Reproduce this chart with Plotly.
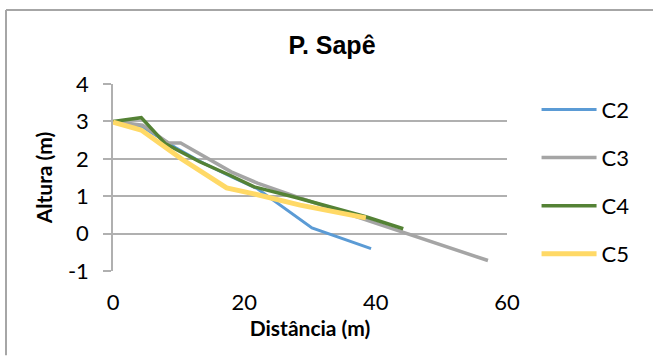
import plotly.graph_objects as go

c2_x = [0, 4.5, 9.5, 13, 18, 22, 30.3, 39.3]
c2_y = [3.0, 2.85, 2.3, 1.95, 1.52, 1.2, 0.15, -0.4]
c3_x = [0, 4.5, 8.5, 10.3, 18, 22, 28, 57.1]
c3_y = [3.0, 2.9, 2.42, 2.42, 1.65, 1.35, 0.98, -0.72]
c4_x = [0, 4.3, 8, 13.2, 17.8, 21.5, 28, 38.5, 44.2]
c4_y = [3.0, 3.1, 2.4, 1.92, 1.56, 1.25, 0.96, 0.45, 0.13]
c5_x = [0, 4.3, 10.4, 17.3, 21.3, 28.5, 38.5]
c5_y = [2.98, 2.77, 2.0, 1.22, 1.07, 0.76, 0.42]

series = [
    ("C2", c2_x, c2_y, "#5B9BD5", 3),
    ("C3", c3_x, c3_y, "#A5A5A5", 3.5),
    ("C4", c4_x, c4_y, "#548235", 3.5),
    ("C5", c5_x, c5_y, "#FFD966", 5),
]

x_ticks = [0, 20, 40, 60]
y_ticks = [-1, 0, 1, 2, 3, 4]
y_tick_labels = ["-1", "0", "1", "2", "3", "4"]

fig = go.Figure()
for name, xs, ys, color, w in series:
    fig.add_trace(go.Scatter(x=xs, y=ys, mode="lines", name=name, legendgroup=name,
                             line=dict(color=color, width=w)))

grid = "#B0B0B0"
frame = "#A6A6A6"
fig.update_layout(
    width=653, height=358,
    margin=dict(l=113, r=146, t=84, b=87),
    paper_bgcolor="white", plot_bgcolor="white",
    font=dict(family="Lato", size=22, color="#000000"),
    title=dict(text="<b>P. Sapê</b>", x=332/653, xanchor="center", y=1-45/358, yanchor="middle",
               font=dict(family="Liberation Sans", size=25, color="#000000")),
    showlegend=True,
    legend=dict(x=1.075, xanchor="left", y=0.975, yanchor="top", tracegroupgap=16.5,
                itemwidth=55, maxheight=320,
                font=dict(family="Lato", size=22), bgcolor="rgba(0,0,0,0)"),
    xaxis=dict(range=[0, 60], tickvals=x_ticks, showgrid=False, zeroline=False, showline=False,
               ticks="", ticklabelstandoff=16,
               title=dict(text="<b>Distância (m)</b>", standoff=5, font=dict(size=21))),
    yaxis=dict(range=[-1, 4], tickvals=y_ticks, ticktext=y_tick_labels, showgrid=True,
               gridcolor=grid, gridwidth=1.5,
               zeroline=False, showline=True, linecolor=grid, linewidth=1.5,
               ticks="outside", ticklen=8, tickcolor=grid, tickwidth=1.5, ticklabelstandoff=10,
               title=dict(text="<b>Altura (m)</b>", standoff=10, font=dict(size=21))),
    shapes=[
        dict(type="line", xref="paper", yref="paper", x0=(6-113)/394, x1=(6-113)/394,
             y0=-0.45, y1=(271-10)/187, line=dict(color=frame, width=2)),
        dict(type="line", xref="paper", yref="paper", x0=(6-113)/394, x1=(660-113)/394,
             y0=(271-10)/187, y1=(271-10)/187, line=dict(color=frame, width=2)),
    ],
)

fig.write_html("out.html", config={"displayModeBar": False})
